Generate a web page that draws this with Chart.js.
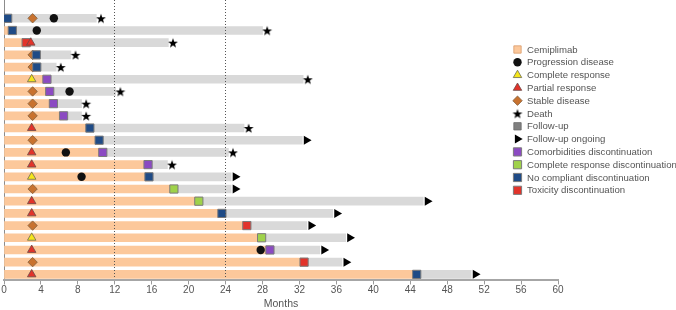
<!DOCTYPE html>
<html>
<head>
<meta charset="utf-8">
<script src="https://cdn.jsdelivr.net/npm/chart.js@4.4.1/dist/chart.umd.min.js"></script>
<style>
  html, body { margin: 0; padding: 0; background: #fff; }
  #wrap { width: 676px; height: 310px; }
</style>
</head>
<body>
<div id="wrap"><canvas id="swimmer" width="676" height="310"></canvas></div>
<script>
// one row per patient, top to bottom
const patients = ['1','2','3','4','5','6','7','8','9','10','11','12','13','14','15','16','17','18','19','20','21','22'];

// months on cemiplimab (end = discontinuation point)
const cemiplimabEnd = [0.4, 0.9, 2.4, 3.5, 3.55, 4.65, 4.95, 5.35, 6.45, 9.3, 10.3, 10.7, 15.6, 15.7, 18.4, 21.1, 23.6, 26.3, 27.9, 28.8, 32.5, 44.7];
const discontinuation = ['noCompliant','noCompliant','toxicity','noCompliant','noCompliant','comorbidities','comorbidities','comorbidities','comorbidities','noCompliant','noCompliant','comorbidities','comorbidities','noCompliant','completeResponse','completeResponse','noCompliant','toxicity','completeResponse','comorbidities','toxicity','noCompliant'];

// end of follow-up and how it ended
const followUpEnd = [10.0, 28.0, 17.8, 7.25, 5.65, 32.4, 12.1, 8.4, 8.4, 26.0, 32.3, 24.3, 17.7, 24.6, 24.6, 45.4, 35.6, 32.8, 37.0, 34.2, 36.6, 50.6];
const followUpStatus = ['death','death','death','death','death','death','death','death','death','death','ongoing','death','death','ongoing','ongoing','ongoing','ongoing','ongoing','ongoing','ongoing','ongoing','ongoing'];

// best response and when it was assessed
const bestResponse = ['SD', null, 'PR', 'SD', 'SD', 'CR', 'SD', 'SD', 'SD', 'PR', 'SD', 'PR', 'PR', 'CR', 'SD', 'PR', 'PR', 'SD', 'CR', 'PR', 'SD', 'PR'];
const responseMonth = [3.1, null, 2.9, 3.1, 3.1, 3.0, 3.1, 3.1, 3.1, 3.0, 3.1, 3.0, 3.0, 3.0, 3.1, 3.0, 3.0, 3.1, 3.0, 3.0, 3.1, 3.0];
const progressionMonth = [5.4, 3.55, null, null, null, null, 7.1, null, null, null, null, 6.7, null, 8.4, null, null, null, null, null, 27.8, null, null];

const monthTicks = [0, 4, 8, 12, 16, 20, 24, 28, 32, 36, 40, 44, 48, 52, 56, 60];
const landmarkMonths = [12, 24];

const legendLabels = ['Cemiplimab', 'Progression disease', 'Complete response', 'Partial response', 'Stable disease', 'Death', 'Follow-up', 'Follow-up ongoing', 'Comorbidities discontinuation', 'Complete response discontinuation', 'No compliant discontinuation', 'Toxicity discontinuation'];

// filled 5 point star, chart.js 'star' is only a cross
function makeStar(size, outer, inner) {
  const c = document.createElement('canvas');
  c.width = size; c.height = size;
  const g = c.getContext('2d');
  g.fillStyle = '#000';
  g.beginPath();
  for (let k = 0; k < 10; k++) {
    const a = -Math.PI / 2 + k * Math.PI / 5;
    const r = k % 2 ? inner : outer;
    g.lineTo(size / 2 + r * Math.cos(a), size / 2 + 0.6 + r * Math.sin(a));
  }
  g.closePath();
  g.fill();
  return c;
}
const starImg = makeStar(12, 5.2, 2.1);

const markerStyle = {
  'Cemiplimab': {pointStyle: 'rect', radius: 5.2, fill: '#fcc89b', stroke: '#d99a68', borderWidth: 0.8},
  'Progression disease': {pointStyle: 'circle', radius: 4.2, fill: '#111', stroke: '#111', borderWidth: 0},
  'Complete response': {pointStyle: 'triangle', radius: 4.9, fill: '#f5e61c', stroke: '#6b6b50', borderWidth: 0.8},
  'Partial response': {pointStyle: 'triangle', radius: 4.9, fill: '#e2332a', stroke: '#6b4a48', borderWidth: 0.8},
  'Stable disease': {pointStyle: 'rectRot', radius: 4.7, fill: '#c8722f', stroke: '#80603f', borderWidth: 0.8},
  'Death': {pointStyle: starImg, radius: 5, fill: '#000', stroke: '#000', borderWidth: 0},
  'Follow-up': {pointStyle: 'rect', radius: 5.2, fill: '#808080', stroke: '#6a6a6a', borderWidth: 0.8},
  'Follow-up ongoing': {pointStyle: 'triangle', radius: 5.2, rotation: 90, fill: '#000', stroke: '#000', borderWidth: 0},
  'Comorbidities discontinuation': {pointStyle: 'rect', radius: 5.8, fill: '#8b4ac2', stroke: '#7b7b7b', borderWidth: 1},
  'Complete response discontinuation': {pointStyle: 'rect', radius: 5.8, fill: '#9fd24a', stroke: '#7b7b7b', borderWidth: 1},
  'No compliant discontinuation': {pointStyle: 'rect', radius: 5.8, fill: '#1f4b86', stroke: '#7b7b7b', borderWidth: 1},
  'Toxicity discontinuation': {pointStyle: 'rect', radius: 5.8, fill: '#e2332a', stroke: '#7b7b7b', borderWidth: 1}
};

function pick(test, xOf) {
  const out = [];
  patients.forEach((p, i) => { if (test(i)) out.push({x: xOf(i), y: i}); });
  return out;
}

function markerSet(label, data, order) {
  const s = markerStyle[label];
  return {
    type: 'scatter', label, data, order,
    pointStyle: s.pointStyle, pointRadius: s.radius, pointHoverRadius: s.radius,
    pointRotation: s.rotation || 0,
    pointBackgroundColor: s.fill, pointBorderColor: s.stroke, pointBorderWidth: s.borderWidth,
    pointHoverBorderWidth: s.borderWidth
  };
}

const discLabel = {
  comorbidities: 'Comorbidities discontinuation',
  completeResponse: 'Complete response discontinuation',
  noCompliant: 'No compliant discontinuation',
  toxicity: 'Toxicity discontinuation'
};

const datasets = [
  markerSet('Death', pick(i => followUpStatus[i] === 'death', i => followUpEnd[i] + 0.5), 1),
  markerSet('Follow-up ongoing', pick(i => followUpStatus[i] === 'ongoing', i => followUpEnd[i] + 0.45), 1),
  markerSet('Complete response', pick(i => bestResponse[i] === 'CR', i => responseMonth[i]), 2),
  markerSet('Partial response', pick(i => bestResponse[i] === 'PR', i => responseMonth[i]), 2)
];
Object.keys(discLabel).forEach(k => {
  datasets.push(markerSet(discLabel[k], pick(i => discontinuation[i] === k, i => cemiplimabEnd[i]), 4));
});
datasets.push(markerSet('Progression disease', pick(i => progressionMonth[i] !== null, i => progressionMonth[i]), 5));
datasets.push(markerSet('Stable disease', pick(i => bestResponse[i] === 'SD', i => responseMonth[i]), 6));
datasets.push({
  label: 'Cemiplimab', order: 10, grouped: false, barThickness: 8,
  backgroundColor: '#fcc89b', borderWidth: 0,
  data: patients.map((p, i) => ({y: i, x: [0, cemiplimabEnd[i]]}))
});
datasets.push({
  label: 'Follow-up', order: 10, grouped: false, barThickness: 8,
  backgroundColor: '#d9d9d9', borderWidth: 0,
  data: patients.map((p, i) => ({y: i, x: [cemiplimabEnd[i], followUpEnd[i]]}))
});

const floatingLegend = {
  id: 'floatingLegend',
  afterDraw(chart, args, opts) {
    const ctx = chart.ctx;
    ctx.save();
    ctx.font = opts.font;
    ctx.textBaseline = 'middle';
    legendLabels.forEach((name, i) => {
      const s = markerStyle[name];
      const y = opts.top + i * opts.spacing;
      ctx.fillStyle = s.fill;
      ctx.strokeStyle = s.stroke;
      ctx.lineWidth = s.borderWidth;
      Chart.helpers.drawPoint(ctx, {pointStyle: s.pointStyle, radius: s.radius, rotation: s.rotation || 0, borderWidth: s.borderWidth}, opts.left, y);
      ctx.fillStyle = opts.color;
      ctx.fillText(name, opts.left + opts.gap, y + 0.5);
    });
    ctx.restore();
  }
};

const textFont = '"Liberation Sans", Arial, sans-serif';

new Chart(document.getElementById('swimmer'), {
  type: 'bar',
  data: {datasets},
  plugins: [floatingLegend],
  options: {
    responsive: false,
    animation: false,
    indexAxis: 'y',
    layout: {autoPadding: false, padding: {left: 4, right: 118, top: 0, bottom: 0}},
    events: [],
    scales: {
      x: {
        type: 'linear', min: 0, max: 60, offset: false,
        afterBuildTicks: axis => { axis.ticks = monthTicks.map(v => ({value: v})); },
        ticks: {autoSkip: false, maxRotation: 0, padding: 1, color: '#555', font: {family: textFont, size: 10, lineHeight: 1}},
        grid: {
          offset: false, z: 1, drawTicks: true, tickLength: 4, tickColor: '#9a9a9a', tickWidth: 1,
          lineWidth: 1,
          color: c => (c.tick && landmarkMonths.includes(c.tick.value)) ? '#555' : 'rgba(0,0,0,0)'
        },
        border: {display: true, z: 1, color: '#a6a6a6', width: 2, dash: [1, 2]},
        title: {display: true, text: 'Months', color: '#555', font: {family: textFont, size: 10.5, lineHeight: 1.1}, padding: {top: 2, bottom: 0}}
      },
      y: {
        type: 'linear', reverse: true, min: -1.5, max: 21.5, offset: false,
        ticks: {display: false},
        grid: {display: false, drawTicks: false, offset: false},
        border: {display: true, color: '#8c8c8c', width: 1}
      }
    },
    plugins: {
      legend: {display: false},
      tooltip: {enabled: false},
      floatingLegend: {left: 517.5, top: 49.5, spacing: 12.8, gap: 9.5, color: '#555', font: '9.6px ' + textFont}
    }
  }
});
</script>
</body>
</html>
